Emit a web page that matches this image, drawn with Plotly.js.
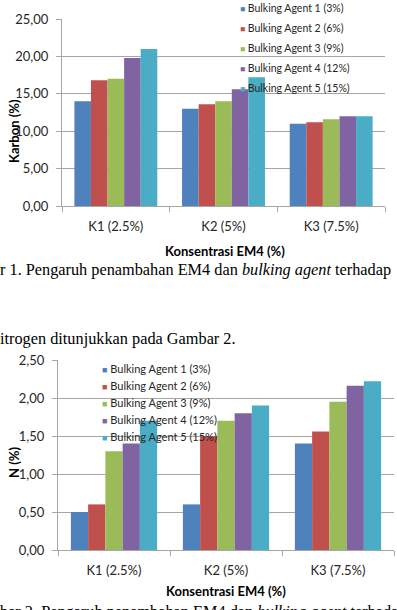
<!DOCTYPE html>
<html>
<head>
<meta charset="utf-8">
<script src="https://cdn.plot.ly/plotly-3.0.1.min.js"></script>
<style>html,body{margin:0;padding:0;background:#fff;overflow:hidden}#chart{width:397px;height:610px}</style>
</head>
<body>
<div id="chart"></div>
<script>
// ---- data ----
const categories = ["K1 (2.5%)", "K2 (5%)", "K3 (7.5%)"];
const seriesNames = ["Bulking Agent 1 (3%)", "Bulking Agent 2 (6%)", "Bulking Agent 3 (9%)", "Bulking Agent 4 (12%)", "Bulking Agent 5 (15%)"];
const seriesColors = ["#4F81BD", "#C0504D", "#9BBB59", "#8064A2", "#4BACC6"];
const karbonBA1 = [14.0, 13.0, 11.0];
const karbonBA2 = [16.8, 13.6, 11.2];
const karbonBA3 = [17.0, 14.0, 11.6];
const karbonBA4 = [19.8, 15.6, 12.0];
const karbonBA5 = [21.0, 17.2, 12.0];
const nitrogenBA1 = [0.50, 0.60, 1.40];
const nitrogenBA2 = [0.60, 1.50, 1.56];
const nitrogenBA3 = [1.30, 1.70, 1.95];
const nitrogenBA4 = [1.40, 1.80, 2.16];
const nitrogenBA5 = [1.70, 1.90, 2.22];
const karbonTicks = [0, 5, 10, 15, 20, 25];
const nitrogenTicks = [0, 0.5, 1.0, 1.5, 2.0, 2.5];

const karbon = [karbonBA1, karbonBA2, karbonBA3, karbonBA4, karbonBA5];
const nitrogen = [nitrogenBA1, nitrogenBA2, nitrogenBA3, nitrogenBA4, nitrogenBA5];

const W = 397, H = 610;
const px = v => v / W;
const py = v => 1 - v / H;

const traces = [];
karbon.forEach((vals, i) => traces.push({
  type: 'bar', x: categories, y: vals, name: seriesNames[i],
  marker: {color: seriesColors[i]}, xaxis: 'x', yaxis: 'y', showlegend: false
}));
nitrogen.forEach((vals, i) => traces.push({
  type: 'bar', x: categories, y: vals, name: seriesNames[i],
  marker: {color: seriesColors[i]}, xaxis: 'x2', yaxis: 'y2', showlegend: false
}));

const tickFont = {family: 'Lato, sans-serif', size: 13, color: '#262626'};
const lineCol = '#A6A6A6';
const xCommon = {
  type: 'category', showline: true, linecolor: lineCol, linewidth: 1,
  ticks: 'outside', tickson: 'boundaries', ticklen: 5, tickcolor: lineCol,
  tickfont: tickFont, showgrid: false, zeroline: false, fixedrange: true,
  ticklabelstandoff: 8
};
const yCommon = {
  showline: true, linecolor: lineCol, linewidth: 1, ticks: 'outside', ticklen: 5,
  tickcolor: lineCol, tickfont: tickFont, gridcolor: lineCol, gridwidth: 1,
  zeroline: false, tickformat: '.2f', fixedrange: true, ticklabelstandoff: 5
};

const titleFont = {family: 'Lato, sans-serif', size: 13, color: '#000', weight: 'bold'};
const capFont = {family: '"Liberation Serif", "Times New Roman", serif', size: 16.3, color: '#000'};

const annotations = [
  {text: 'Karbon (%)', xref: 'paper', yref: 'paper', x: px(14), y: py(131), textangle: -90,
   showarrow: false, xanchor: 'center', yanchor: 'middle', font: titleFont},
  {text: 'Konsentrasi EM4 (%)', xref: 'paper', yref: 'paper', x: px(225), y: py(251),
   showarrow: false, xanchor: 'center', yanchor: 'middle', font: titleFont},
  {text: 'N (%)', xref: 'paper', yref: 'paper', x: px(14), y: py(463), textangle: -90,
   showarrow: false, xanchor: 'center', yanchor: 'middle', font: titleFont},
  {text: 'Konsentrasi EM4 (%)', xref: 'paper', yref: 'paper', x: px(226), y: py(591),
   showarrow: false, xanchor: 'center', yanchor: 'middle', font: titleFont},
  {text: 'r 1. Pengaruh penambahan EM4 dan <i>bulking agent</i> terhadap', xref: 'paper', yref: 'paper',
   x: px(-2), y: py(269), showarrow: false, xanchor: 'left', yanchor: 'middle', font: capFont},
  {text: 'itrogen ditunjukkan pada Gambar 2.', xref: 'paper', yref: 'paper',
   x: px(-2), y: py(338), showarrow: false, xanchor: 'left', yanchor: 'middle', font: capFont},
  {text: 'bar 2. Pengaruh penambahan EM4 dan <i>bulking agent</i> terhadap', xref: 'paper', yref: 'paper',
   x: px(-2), y: py(611), showarrow: false, xanchor: 'left', yanchor: 'middle', font: capFont}
];

// legend entries (one per series, for each chart)
function legendEntries(x0, y0, step, size) {
  seriesNames.forEach((nm, i) => annotations.push({
    text: '<span style="color:' + seriesColors[i] + ';font-size:' + (size - 2) + 'px">■</span> ' + nm,
    xref: 'paper', yref: 'paper', x: px(x0), y: py(y0 + i * step),
    showarrow: false, xanchor: 'left', yanchor: 'middle',
    font: {family: 'Lato, sans-serif', size: size, color: '#262626'}
  }));
}
legendEntries(238, 8, 19.9, 10.5);
legendEntries(100, 368, 17, 11);

const layout = {
  width: W, height: H,
  margin: {l: 0, r: 0, t: 0, b: 0},
  paper_bgcolor: '#fff', plot_bgcolor: '#fff',
  separators: ',.',
  barmode: 'group', bargap: 0.23, bargroupgap: 0,
  showlegend: false,
  xaxis: Object.assign({}, xCommon, {domain: [px(62), px(385)], anchor: 'y'}),
  yaxis: Object.assign({}, yCommon, {domain: [py(206), py(19)], anchor: 'x', range: [0, 25], tickvals: karbonTicks}),
  xaxis2: Object.assign({}, xCommon, {domain: [px(58), px(394)], anchor: 'y2'}),
  yaxis2: Object.assign({}, yCommon, {domain: [py(550), py(360)], anchor: 'x2', range: [0, 2.5], tickvals: nitrogenTicks}),
  annotations: annotations
};

Plotly.newPlot('chart', traces, layout, {staticPlot: true, displayModeBar: false});
</script>
</body>
</html>
